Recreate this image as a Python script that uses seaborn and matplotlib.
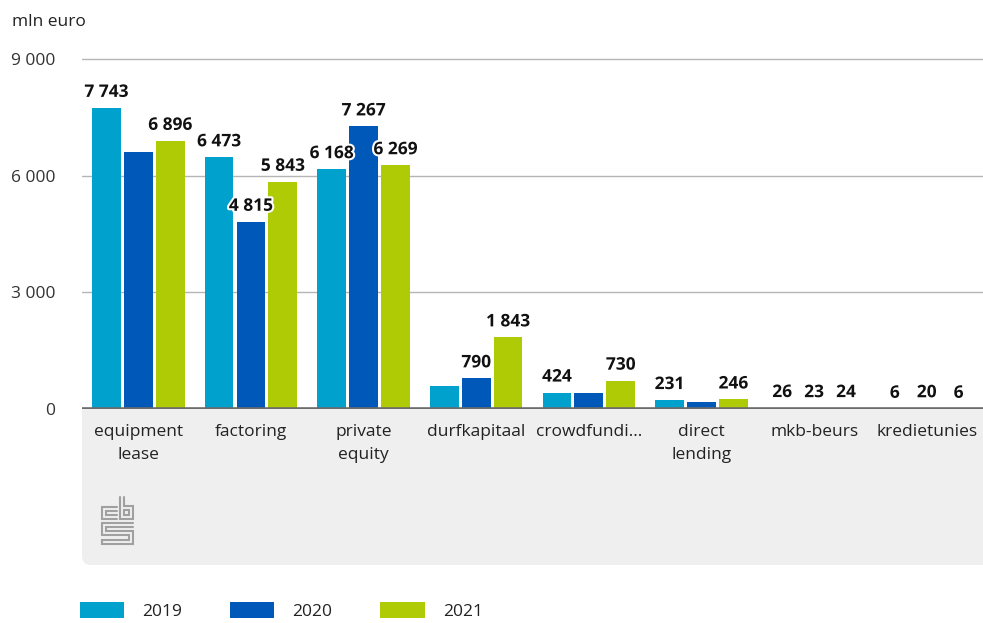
import pandas as pd
import matplotlib.pyplot as plt
import matplotlib.patheffects as pe
from matplotlib.patches import FancyBboxPatch, Rectangle
from matplotlib.lines import Line2D
import seaborn as sns

categories = ['equipment\nlease', 'factoring', 'private\nequity', 'durfkapitaal',
              'crowdfundi...', 'direct\nlending', 'mkb-beurs', 'kredietunies']
years = ['2019', '2020', '2021']
values_2019 = [7743, 6473, 6168, 590, 424, 231, 26, 6]
values_2020 = [6610, 4815, 7267, 790, 400, 190, 23, 20]
values_2021 = [6896, 5843, 6269, 1843, 730, 246, 24, 6]
# which bars carry a value label in the original
shown_2019 = [True, True, True, False, True, True, True, True]
shown_2020 = [False, True, True, True, False, False, True, True]
shown_2021 = [True, True, True, True, True, True, True, True]
yticks = [0, 3000, 6000, 9000]
palette = ['#00a1cd', '#0058b8', '#afcb05']

FS = 12.5


def fmt(v):
    return f'{v:,}'.replace(',', ' ')


def build_frame():
    rows = []
    for year, vals in zip(years, [values_2019, values_2020, values_2021]):
        for cat, v in zip(categories, vals):
            rows.append({'category': cat, 'year': year, 'value': v})
    return pd.DataFrame(rows)


def draw_logo(fig):
    # rough outline of the cbs logo, in pixel coordinates (y from top)
    H = 623
    paths = [
        [(117, 507), (102, 507), (102, 519), (117, 519)],
        [(117, 511), (106, 511), (106, 515), (117, 515)],
        [(120, 497), (120, 519), (133, 519), (133, 506), (124, 506), (124, 497)],
        [(124, 510), (129, 510), (129, 515), (124, 515), (124, 510)],
        [(133, 523), (102, 523), (102, 535), (129, 535), (129, 540), (102, 540),
         (102, 544), (133, 544), (133, 531), (106, 531), (106, 527), (133, 527)],
    ]
    for p in paths:
        xs = [x / 983 for x, _ in p]
        ys = [1 - y / H for _, y in p]
        fig.add_artist(Line2D(xs, ys, color='#a0a0a0', lw=1.5, transform=fig.transFigure,
                              solid_joinstyle='miter'))


def main():
    sns.set_theme(style='white')
    plt.rcParams['font.family'] = ['Open Sans', 'DejaVu Sans']

    df = build_frame()
    fig = plt.figure(figsize=(9.83, 6.23), dpi=100)

    # grey panel under the category axis
    panel = FancyBboxPatch((0.82, 0.58), 9.6, 1.56,
                           boxstyle='round,pad=0,rounding_size=0.09',
                           transform=fig.dpi_scale_trans, facecolor='#efefef',
                           edgecolor='none', zorder=0)
    fig.add_artist(panel)
    fig.add_artist(Rectangle((0.82, 1.2), 9.6, 0.94, transform=fig.dpi_scale_trans,
                             facecolor='#efefef', edgecolor='none', zorder=0))

    ax = fig.add_axes([82 / 983, 214 / 623, 901 / 983, 352 / 623])
    ax.patch.set_alpha(0)
    sns.barplot(data=df, x='category', y='value', hue='year', palette=palette,
                saturation=1, width=0.85, gap=0.1, linewidth=0, ax=ax, zorder=2)

    ax.set_xlim(-0.5, 7.5)
    ax.set_ylim(0, 9050)
    ax.set_yticks(yticks)
    ax.set_yticklabels([fmt(t) for t in yticks])
    ax.yaxis.grid(True, color='#b5b5b5', lw=1)
    ax.set_axisbelow(True)
    ax.axhline(0, color='#6b6b6b', lw=2.6, zorder=3)
    for s in ax.spines.values():
        s.set_visible(False)
    ax.tick_params(axis='y', length=0, pad=19, labelsize=FS, labelcolor='#333333')
    ax.tick_params(axis='x', length=0, pad=11, labelsize=FS, labelcolor='#222222')
    for t in ax.get_xticklabels():
        t.set_linespacing(1.55)
    ax.set_xlabel('')
    ax.set_ylabel('')

    shown = [shown_2019, shown_2020, shown_2021]
    vals = [values_2019, values_2020, values_2021]
    for cont, sh, vs in zip(ax.containers, shown, vals):
        labels = [fmt(v) if s else '' for v, s in zip(vs, sh)]
        txts = ax.bar_label(cont, labels=labels, padding=5, fontsize=FS,
                            fontweight='bold', color='#111111')
        for t in txts:
            t.set_path_effects([pe.withStroke(linewidth=3, foreground='white')])
            t.set_zorder(5)

    ax.get_legend().remove()
    handles = [Rectangle((0, 0), 1, 1, facecolor=c, edgecolor='none') for c in palette]
    fig.legend(handles, years, loc='center left', bbox_to_anchor=(80 / 983, 12 / 623),
               ncol=3, frameon=False, fontsize=FS, handlelength=2.55,
               handleheight=1.0, handletextpad=1.05, columnspacing=2.75,
               borderpad=0, borderaxespad=0, labelcolor='#222222')

    fig.text(12 / 983, 1 - 22 / 623, 'mln euro', fontsize=FS, color='#222222', va='center')
    draw_logo(fig)

    fig.savefig('out.png', dpi=100)


if __name__ == '__main__':
    main()
